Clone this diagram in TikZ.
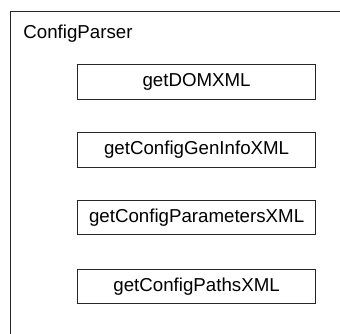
\documentclass[tikz,border=0pt]{standalone}
\usepackage{fontspec}
\setmainfont{Liberation Sans}
\begin{document}
\begin{tikzpicture}[x=1pt,y=-1pt,
  line width=0.9pt,
  label text/.style={font=\fontsize{18.7}{22}\selectfont},
  method/.style={draw=black!85, rectangle, minimum width=238pt, minimum height=34.5pt,
    inner sep=0pt, label text},
  container/.style={draw=black!85, rectangle, inner sep=0pt}]
  \useasboundingbox (0,0) rectangle (340,333);
  \clip (0,0) rectangle (340,333);
  % enclosing class frame (continues past the right and bottom edges)
  \node[container, minimum width=360pt, minimum height=350pt, anchor=north west] (parser) at (9.5,10.5) {};
  \node[anchor=base west, inner sep=0pt, label text] (title) at (23,38) {ConfigParser};
  % member methods
  \node[method] (dom)    at (196.6,81.75)  {getDOMXML};
  \node[method] (gen)    at (196.6,150.1)  {getConfigGenInfoXML};
  \node[method] (params) at (196.6,217.25) {getConfigParametersXML};
  \node[method] (paths)  at (196.6,286.25) {getConfigPathsXML};
\end{tikzpicture}
\end{document}
